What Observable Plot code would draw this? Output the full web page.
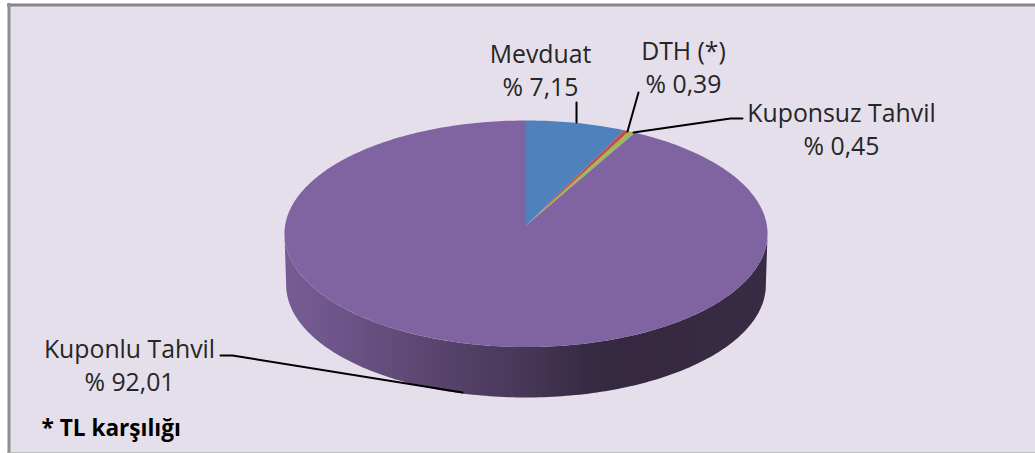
<!DOCTYPE html>
<html><head><meta charset="utf-8">
<script src="https://cdn.jsdelivr.net/npm/d3@7"></script>
<script src="https://cdn.jsdelivr.net/npm/@observablehq/plot@0.6"></script>
<style>html,body{margin:0;padding:0;background:#fff}svg{display:block}</style>
</head><body><div id="chart"></div>
<script>
const names = ["Mevduat", "DTH (*)", "Kuponsuz Tahvil", "Kuponlu Tahvil"];
const shares = [7.15, 0.39, 0.45, 92.01];
const colors = ["#4f81bd", "#c0504d", "#9bbb59", "#8064a2"];
const footnote = "* TL karşılığı";

// perspective view of the pie
const view = {cx: 525.5, cy: 225, A: 240.9, B: 112.66, k: 0.0729, depth: 51.3, shrink: 0.993};
const project = (deg, r = 1) => {
  const a = deg * Math.PI / 180, s = Math.sin(a), c = Math.cos(a), d = 1 + view.k * c * r;
  return [view.cx + view.A * r * s / d, view.cy - view.B * r * c / d];
};
const projectBase = (deg) => {
  const [x, y] = project(deg);
  return [view.cx + (x - view.cx) * view.shrink, y + view.depth + (y - view.cy) * (view.shrink - 1)];
};
const arc = (from, to, fn = project) => {
  const n = Math.max(2, Math.ceil(Math.abs(to - from)));
  return d3.range(n + 1).map(i => fn(from + (to - from) * i / n));
};

// slices, from the shares
let start = 0;
const sliceRows = names.flatMap((name, i) => {
  const end = start + shares[i] * 3.6;
  const pts = [[view.cx, view.cy], ...arc(start, end), [view.cx, view.cy]];
  start = end;
  return pts.map(([x, y]) => ({name, x, y}));
});

// the side wall below the visible rim
const limb = Math.acos(-view.k) * 180 / Math.PI;
const wallRows = [...arc(limb, 360 - limb), ...arc(360 - limb, limb, projectBase)].map(([x, y]) => ({x, y}));

const gradient = () => {
  const defs = d3.create("svg:defs");
  const g = defs.append("linearGradient").attr("id", "wall")
    .attr("gradientUnits", "userSpaceOnUse")
    .attr("x1", 284).attr("x2", 767).attr("y1", 0).attr("y2", 0);
  [[0, "#775c94"], [0.12, "#6c5488"], [0.25, "#5f4a76"], [0.37, "#534066"], [0.5, "#473757"], [0.62, "#372b44"], [0.72, "#352840"], [1, "#382b44"]]
    .forEach(([o, c]) => g.append("stop").attr("offset", o).attr("stop-color", c));
  return defs.node();
};

const leaders = [
  {id: "Mevduat", x: 576, y: 102}, {id: "Mevduat", x: 576, y: 122},
  {id: "DTH", x: 638, y: 92}, {id: "DTH", x: 627, y: 131},
  {id: "Kuponsuz", x: 633, y: 132}, {id: "Kuponsuz", x: 730, y: 118}, {id: "Kuponsuz", x: 742, y: 118},
  {id: "Kuponlu", x: 220, y: 355}, {id: "Kuponlu", x: 232, y: 355}, {id: "Kuponlu", x: 462, y: 392}
];
const pct = v => "% " + v.toFixed(2).replace(".", ",");
const labelPos = [[540, 68.5], [683, 65], [841, 127.5], [129, 363.5]];
const labels = names.map((n, i) => ({t: n + "\n" + pct(shares[i]), x: labelPos[i][0], y: labelPos[i][1]}));
const font = "'Open Sans', Lato, sans-serif";

const chart = Plot.plot({
  width: 1035, height: 453, margin: 0,
  x: {domain: [0, 1035], range: [0, 1035], axis: null},
  y: {domain: [0, 453], range: [0, 453], axis: null},
  color: {domain: names, range: colors},
  style: {background: "#fff", fontFamily: font},
  marks: [
    gradient,
    Plot.rect([{}], {x1: 10, x2: 1035, y1: 6, y2: 452, fill: "#e5dfec", stroke: "none"}),
    Plot.ruleY([4.5], {x1: 7, x2: 1035, stroke: "#878787", strokeWidth: 3}),
    Plot.ruleX([8.5], {y1: 3, y2: 453, stroke: "#8f8f8f", strokeWidth: 3}),
    Plot.ruleY([452.5], {x1: 7, x2: 1035, stroke: "#a8a8a8", strokeWidth: 1.5}),
    Plot.line(wallRows, {x: "x", y: "y", fill: "url(#wall)", stroke: "none", curve: "linear"}),
    Plot.line(sliceRows, {x: "x", y: "y", z: "name", fill: "name", stroke: "none", curve: "linear"}),
    Plot.line(leaders, {x: "x", y: "y", z: "id", stroke: "#000", strokeWidth: 2, curve: "linear"}),
    Plot.text(labels, {x: "x", y: "y", text: "t", fontSize: 24.8, fill: "#262626", lineHeight: 1.33, textAnchor: "middle", lineAnchor: "middle"}),
    Plot.text([footnote], {x: [41], y: [428], text: d => d, fontSize: 22.6, fontWeight: 700, fill: "#000", textAnchor: "start"})
  ]
});
document.getElementById("chart").append(chart);
</script></body></html>
